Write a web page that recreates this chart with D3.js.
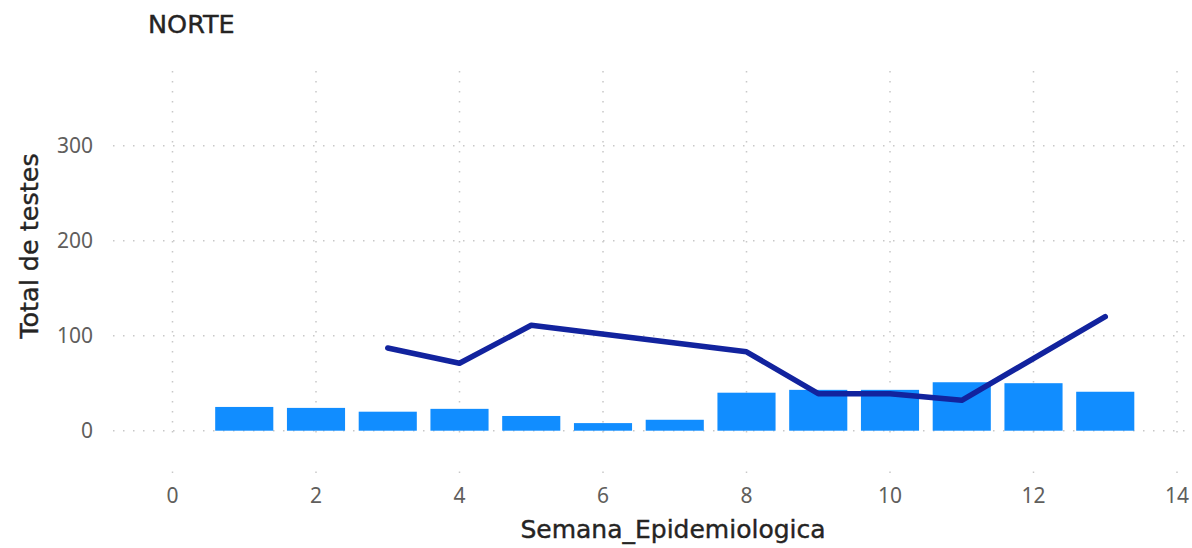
<!DOCTYPE html>
<html>
<head>
<meta charset="utf-8">
<script src="https://cdn.jsdelivr.net/npm/d3@7"></script>
<style>
  body { margin: 0; background: #fff; }
  svg { display: block; }
</style>
</head>
<body>
<svg id="chart" width="1192" height="548"></svg>
<script>
// semanas e total de testes (barras)
const semanas = [1, 2, 3, 4, 5, 6, 7, 8, 9, 10, 11, 12, 13];
const testes = [25, 24, 20, 23, 15.5, 8, 11.5, 40, 43, 43, 51, 50, 41];

// linha - so aparecem algumas semanas
const semanasLinha = [3, 4, 5, 8, 9, 10, 11, 13];
const valoresLinha = [87, 71, 111, 83, 39, 39, 32, 120];

const xTicks = [0, 2, 4, 6, 8, 10, 12, 14];
const yTicks = [0, 100, 200, 300];

const svg = d3.select("#chart");

const x = d3.scaleLinear().domain([0, 14]).range([172.5, 1177]);
const y = d3.scaleLinear().domain([0, 300]).range([430.7, 145.7]);

const gridColor = "#c8c8c8";

// grade horizontal
svg.append("g")
    .selectAll("line")
    .data(yTicks)
    .enter()
    .append("line")
    .attr("x1", 113)
    .attr("x2", 1192)
    .attr("y1", d => y(d))
    .attr("y2", d => y(d))
    .attr("stroke", gridColor)
    .attr("stroke-width", 1.5)
    .attr("stroke-dasharray", "1.5,8.5");

// grade vertical
svg.append("g")
    .selectAll("line")
    .data(xTicks)
    .enter()
    .append("line")
    .attr("x1", d => x(d))
    .attr("x2", d => x(d))
    .attr("y1", 71)
    .attr("y2", 434)
    .attr("stroke", gridColor)
    .attr("stroke-width", 1.5)
    .attr("stroke-dasharray", "1.5,8.5");

svg.append("g")
    .selectAll("line")
    .data(xTicks)
    .enter()
    .append("line")
    .attr("x1", d => x(d))
    .attr("x2", d => x(d))
    .attr("y1", 471.5)
    .attr("y2", 473)
    .attr("stroke", gridColor)
    .attr("stroke-width", 1.5);

// barras
const barW = (x(1) - x(0)) * 0.81;
svg.append("g")
    .selectAll("rect")
    .data(semanas)
    .enter()
    .append("rect")
    .attr("x", (d, i) => x(d) - barW / 2)
    .attr("y", (d, i) => y(testes[i]))
    .attr("width", barW)
    .attr("height", (d, i) => y(0) - y(testes[i]))
    .attr("fill", "#118dff");

// linha
const linha = d3.line()
    .x((d, i) => x(semanasLinha[i]))
    .y(d => y(d));

svg.append("path")
    .datum(valoresLinha)
    .attr("d", linha)
    .attr("fill", "none")
    .attr("stroke", "#12239e")
    .attr("stroke-width", 5.5)
    .attr("stroke-linecap", "round")
    .attr("stroke-linejoin", "round");

// rotulos dos eixos
const tickFont = "'Noto Sans', sans-serif";
svg.append("g")
    .selectAll("text")
    .data(yTicks)
    .enter()
    .append("text")
    .attr("x", 93)
    .attr("y", d => y(d))
    .attr("dy", "0.35em")
    .attr("text-anchor", "end")
    .attr("font-family", tickFont)
    .attr("font-size", 21)
    .attr("fill", "#605e5c")
    .text(d => d);

svg.append("g")
    .selectAll("text")
    .data(xTicks)
    .enter()
    .append("text")
    .attr("x", d => x(d))
    .attr("y", 503)
    .attr("text-anchor", "middle")
    .attr("font-family", tickFont)
    .attr("font-size", 21)
    .attr("fill", "#605e5c")
    .text(d => d);

// titulos
const titleFont = "'DejaVu Sans', sans-serif";
svg.append("text")
    .attr("x", 148)
    .attr("y", 33)
    .attr("font-family", titleFont)
    .attr("font-size", 25.5)
    .attr("fill", "#252423")
    .attr("stroke", "#252423")
    .attr("stroke-width", 0.4)
    .text("NORTE");

svg.append("text")
    .attr("transform", "translate(38,246) rotate(-90)")
    .attr("text-anchor", "middle")
    .attr("font-family", titleFont)
    .attr("font-size", 25.5)
    .attr("fill", "#252423")
    .attr("stroke", "#252423")
    .attr("stroke-width", 0.4)
    .text("Total de testes");

svg.append("text")
    .attr("x", 673)
    .attr("y", 538)
    .attr("text-anchor", "middle")
    .attr("font-family", titleFont)
    .attr("font-size", 25)
    .attr("fill", "#252423")
    .attr("stroke", "#252423")
    .attr("stroke-width", 0.4)
    .text("Semana_Epidemiologica");
</script>
</body>
</html>
